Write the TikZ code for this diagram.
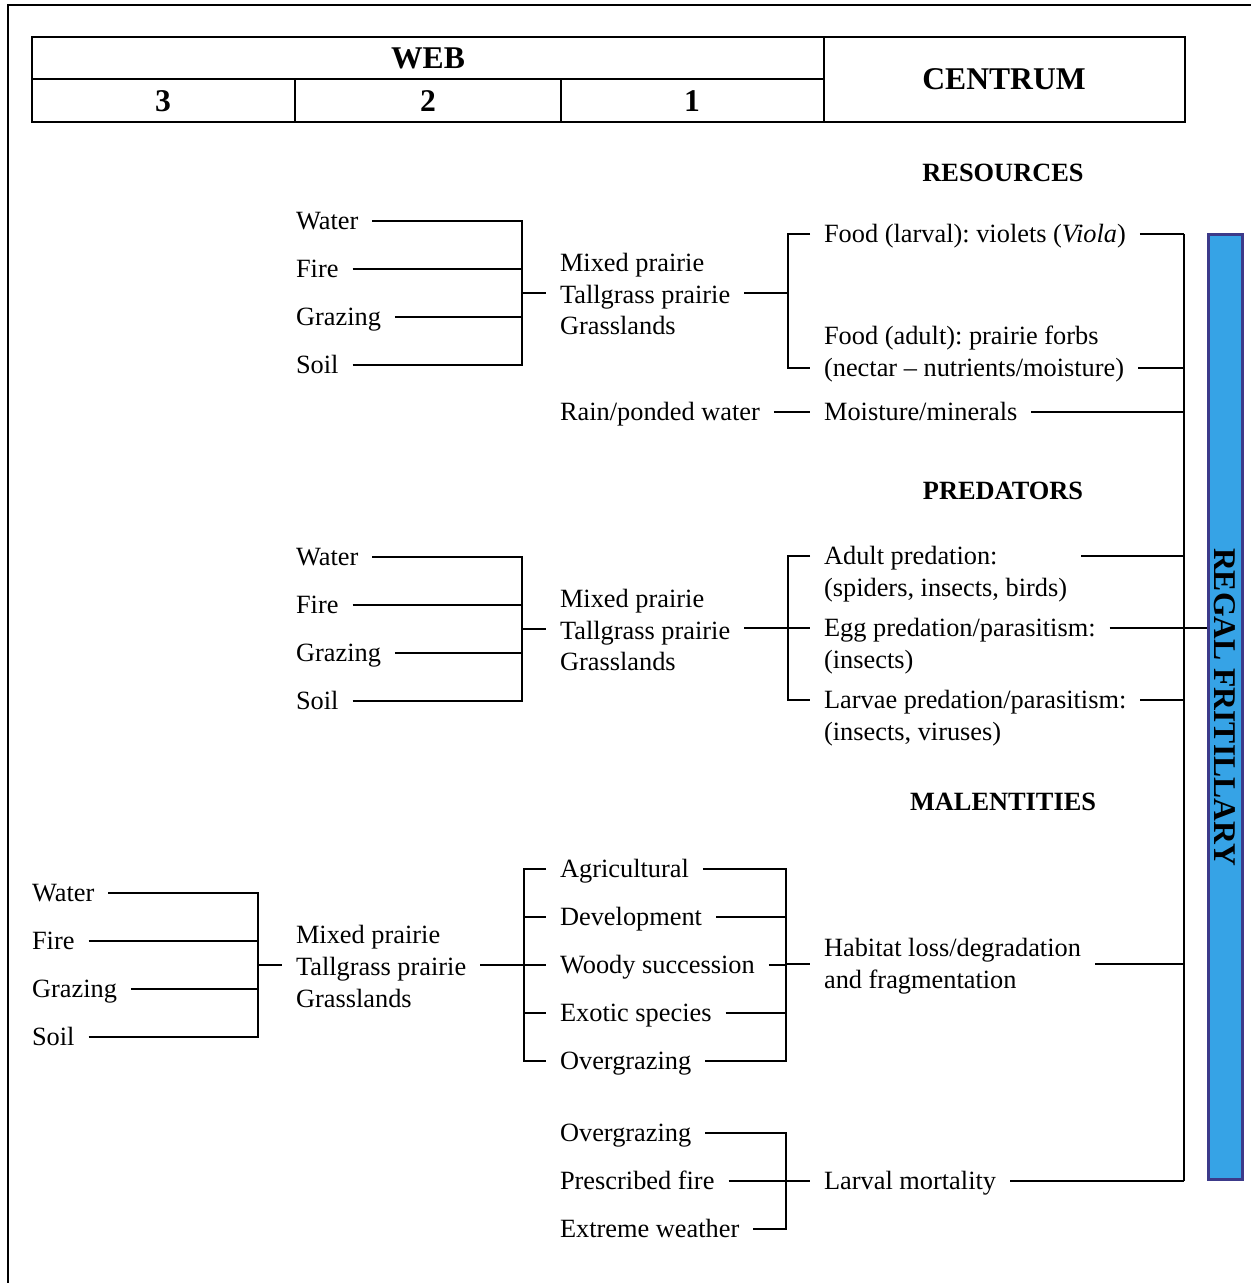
\documentclass[tikz,border=0pt]{standalone}
\usepackage{fontspec}
\setmainfont{Liberation Serif}
\usepackage{tikz}
\usepackage{xcolor}
\definecolor{barblue}{RGB}{54,163,230}
\definecolor{baredge}{RGB}{60,58,138}
\newcommand{\txtsize}{\fontsize{15}{18.2}\selectfont}
\newcommand{\hdsize}{\fontsize{18}{21}\selectfont}
\frenchspacing

\begin{document}
\begin{tikzpicture}[x=0.02cm,y=-0.02cm,
  wire/.style={line width=1.2pt},
  tab/.style={line width=1.4pt},
  lbl/.style={anchor=west,inner xsep=0pt,inner ysep=0pt,outer xsep=8pt,
    text height=12pt,text depth=2pt,font=\txtsize},
  blk/.style={anchor=west,inner xsep=0pt,outer xsep=8pt,align=left,font=\txtsize},
  hd/.style={font=\hdsize\bfseries},
  sec/.style={font=\txtsize\bfseries},
  bar/.style={rotate=-90,draw=baredge,fill=barblue,line width=1.7pt,
    minimum width=18.92cm,minimum height=0.68cm,inner sep=0pt,font=\hdsize\bfseries}]
  \useasboundingbox (0,0) rectangle (1250,1283);
  % frame
  \draw[line width=1.6pt] (8,1300) -- (8,5) -- (1260,5);
  % header table
  \draw[tab] (32,37) rectangle (1185,122);
  \draw[tab] (32,79) -- (824,79);
  \draw[tab] (824,37) -- (824,122);
  \draw[tab] (295,79) -- (295,122);
  \draw[tab] (561,79) -- (561,122);
  \node[hd] (web) at (428,58) {WEB};
  \node[hd] (w3) at (163,101) {3};
  \node[hd] (w2) at (428,101) {2};
  \node[hd] (w1) at (692,101) {1};
  \node[hd] (centrum) at (1004,79) {CENTRUM};
  % bus and species bar
  \coordinate (bus) at (1184,0);
  \node[bar] (regal) at (1225,707) {REGAL FRITILLARY};

  % resources
  \node[sec] (res) at (1003,173) {RESOURCES};
  \node[lbl] (wA) at (282,221) {Water};
  \node[lbl] (fA) at (282,269) {Fire};
  \node[lbl] (gA) at (282,317) {Grazing};
  \node[lbl] (sA) at (282,365) {Soil};
  \coordinate (jA) at (522,293);
  \coordinate (kA) at (788,293);
  \node[blk] (hA) at (546,294) {Mixed prairie\\Tallgrass prairie\\Grasslands};
  \node[lbl] (fl) at (810,234) {Food (larval): violets (\textit{Viola})};
  \node[lbl] (fa1) at (810,336) {Food (adult): prairie forbs};
  \node[lbl] (fa2) at (810,368) {(nectar -- nutrients/moisture)};
  \node[lbl] (rain) at (546,412) {Rain/ponded water};
  \node[lbl] (moist) at (810,412) {Moisture/minerals};
  \foreach \n in {wA,fA,gA,sA} \draw[wire] (\n.east) -| (jA);
  \draw[wire] (jA) -- (jA -| hA.west);
  \draw[wire] (hA.east |- kA) -- (kA);
  \draw[wire] (fl.west) -| (fa2.west -| kA) -- (fa2.west);
  \draw[wire] (fl.east) -- (fl.east -| bus);
  \draw[wire] (fa2.east) -- (fa2.east -| bus);
  \draw[wire] (rain.east) -- (moist.west);
  \draw[wire] (moist.east) -- (moist.east -| bus);

  % predators
  \node[sec] (pred) at (1003,491) {PREDATORS};
  \node[lbl] (wB) at (282,557) {Water};
  \node[lbl] (fB) at (282,605) {Fire};
  \node[lbl] (gB) at (282,653) {Grazing};
  \node[lbl] (sB) at (282,701) {Soil};
  \coordinate (jB) at (522,629);
  \coordinate (kB) at (788,628);
  \node[blk] (hB) at (546,630) {Mixed prairie\\Tallgrass prairie\\Grasslands};
  \node[lbl] (ad1) at (810,556) {Adult predation:};
  \node[lbl] (ad2) at (810,588) {(spiders, insects, birds)};
  \node[lbl] (eg1) at (810,628) {Egg predation/parasitism:};
  \node[lbl] (eg2) at (810,660) {(insects)};
  \node[lbl] (lv1) at (810,700) {Larvae predation/parasitism:};
  \node[lbl] (lv2) at (810,732) {(insects, viruses)};
  \foreach \n in {wB,fB,gB,sB} \draw[wire] (\n.east) -| (jB);
  \draw[wire] (jB) -- (jB -| hB.west);
  \draw[wire] (hB.east |- kB) -- (kB);
  \draw[wire] (ad1.west) -| (lv1.west -| kB) -- (lv1.west);
  \draw[wire] (kB) -- (eg1.west);
  \draw[wire] (ad1.east -| ad2.east) -- (ad1.east -| bus);
  \draw[wire] (eg1.east) -- (eg1.east -| regal.south);
  \draw[wire] (lv1.east) -- (lv1.east -| bus);

  % malentities
  \node[sec] (mal) at (1003,802) {MALENTITIES};
  \node[lbl] (wC) at (18,893) {Water};
  \node[lbl] (fC) at (18,941) {Fire};
  \node[lbl] (gC) at (18,989) {Grazing};
  \node[lbl] (sC) at (18,1037) {Soil};
  \coordinate (jC) at (258,965);
  \coordinate (kC) at (524,965);
  \node[blk] (hC) at (282,966) {Mixed prairie\\Tallgrass prairie\\Grasslands};
  \node[lbl] (ag) at (546,869) {Agricultural};
  \node[lbl] (dv) at (546,917) {Development};
  \node[lbl] (wd) at (546,965) {Woody succession};
  \node[lbl] (ex) at (546,1013) {Exotic species};
  \node[lbl] (ov) at (546,1061) {Overgrazing};
  \coordinate (mC) at (786,964);
  \node[blk] (hab) at (810,966) {Habitat loss/degradation\\and fragmentation};
  \foreach \n in {wC,fC,gC,sC} \draw[wire] (\n.east) -| (jC);
  \draw[wire] (jC) -- (jC -| hC.west);
  \draw[wire] (hC.east |- kC) -- (kC);
  \draw[wire] (ag.west) -| (ov.west -| kC) -- (ov.west);
  \foreach \n in {dv,wd,ex} \draw[wire] (\n.west -| kC) -- (\n.west);
  \foreach \n in {ag,dv,wd,ex,ov} \draw[wire] (\n.east) -| (mC);
  \draw[wire] (mC) -- (mC -| hab.west);
  \draw[wire] (hab.east |- mC) -- (mC -| bus);

  % larval mortality
  \node[lbl] (og) at (546,1133) {Overgrazing};
  \node[lbl] (pf) at (546,1181) {Prescribed fire};
  \node[lbl] (xw) at (546,1229) {Extreme weather};
  \coordinate (mD) at (786,1181);
  \node[lbl] (lm) at (810,1181) {Larval mortality};
  \foreach \n in {og,pf,xw} \draw[wire] (\n.east) -| (mD);
  \draw[wire] (mD) -- (lm.west);
  \draw[wire] (lm.east) -- (lm.east -| bus);
  % bus to the species
  \draw[wire] (fl.east -| bus) -- (lm.east -| bus);
\end{tikzpicture}
\end{document}
